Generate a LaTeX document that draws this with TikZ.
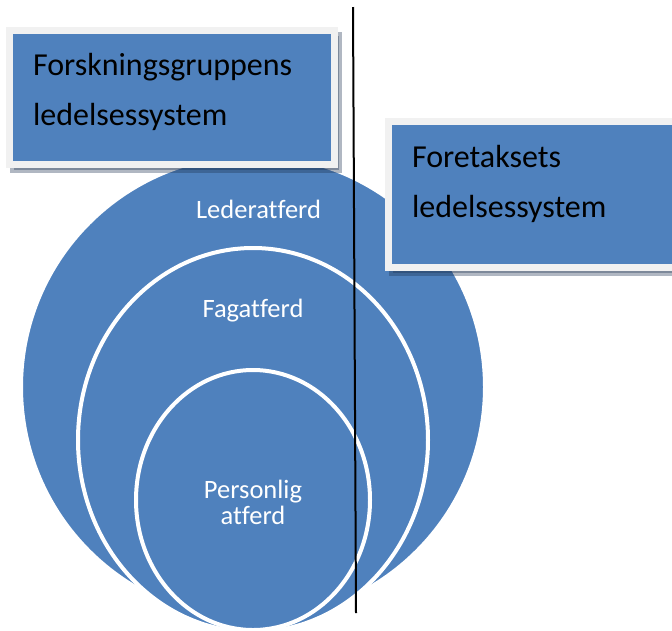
\documentclass[tikz,border=0pt]{standalone}
\usepackage{fontspec}
\setmainfont[Ligatures=NoCommon]{Carlito}
\usetikzlibrary{shapes.geometric,shadows}
\definecolor{smartblue}{RGB}{79,129,189}
\definecolor{framegray}{RGB}{241,241,241}
\definecolor{shadowgray}{RGB}{30,50,80}

\begin{document}
\begin{tikzpicture}[
        x=1pt, y=-1pt,
        ring/.style={ellipse, fill=smartblue, draw=white, line width=4pt, inner sep=0pt},
        ringtext/.style={text=white, font=\fontsize{26.5}{26.5}\selectfont, text width=4cm, align=center, inner sep=0pt},
        sysbox/.style={rectangle, fill=smartblue, draw=framegray, line width=7pt, inner xsep=23.5pt, inner ysep=0pt, align=left, anchor=north west, font=\fontsize{32}{50}\selectfont,
            drop shadow={shadow xshift=4pt, shadow yshift=-5pt, fill=shadowgray, draw=shadowgray, line width=7pt, opacity=0.35}},
        divider/.style={draw=black, line width=2pt}
    ]
    \useasboundingbox (0,0) rectangle (672,630);

    % Nested behaviour levels
    \node[ring, minimum width=464pt, minimum height=464pt] (leder) at (253,387) {};
    \node[ring, minimum width=350pt, minimum height=384pt] (fag) at (253,440) {};
    \node[ring, minimum width=234pt, minimum height=260pt] (person) at (253,500) {};

    \node[ringtext, anchor=base] (leder-label) at (253,218) {Lederatferd};
    \node[ringtext, anchor=base] (fag-label) at (253,317) {Fagatferd};
    \node[ringtext, anchor=base] (person-label) at (253,498) {Personlig\\atferd};

    % Dividing line
    \coordinate (div-top) at (353,7);
    \coordinate (div-bot) at (356,613);
    \draw[divider] (div-top) -- (div-bot);

    % Management systems
    \node[sysbox, text width=278pt, text height=45pt, text depth=89pt] (group-sys) at (6,27) {Forskningsgruppens\\ledelsessystem};
    \node[sysbox, text width=263pt, text height=46pt, text depth=100pt] (firm-sys) at (385,118) {Foretaksets\\ledelsessystem};

\end{tikzpicture}
\end{document}
